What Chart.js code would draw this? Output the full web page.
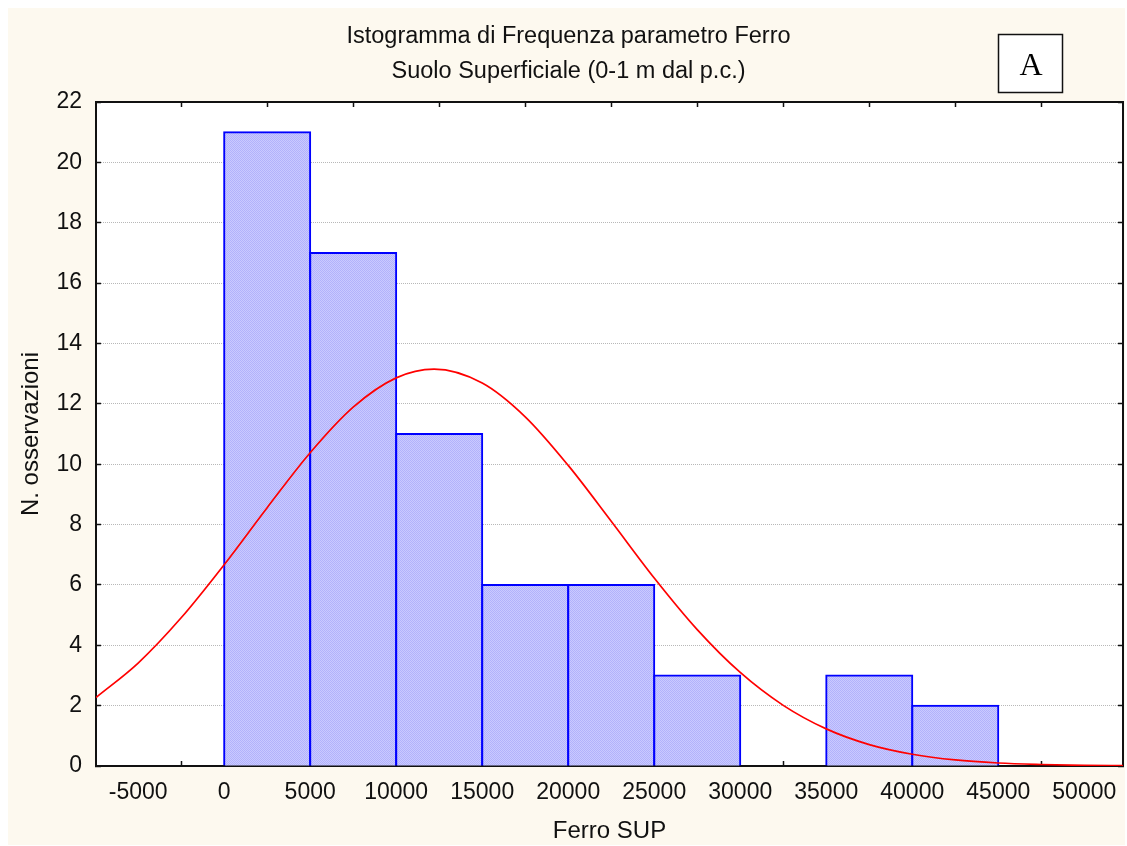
<!DOCTYPE html>
<html>
<head>
<meta charset="utf-8">
<script src="https://cdn.jsdelivr.net/npm/chart.js@4.4.1/dist/chart.umd.min.js"></script>
<style>
  html, body { margin: 0; padding: 0; background: #ffffff; }
  canvas { display: block; }
</style>
</head>
<body>
<canvas id="histo" width="1127" height="846"></canvas>
<script>
// bins of Ferro SUP (lower edge, width 5000) and number of observations
var binStart = [0, 5000, 10000, 15000, 20000, 25000, 30000, 35000, 40000];
var binWidth = 5000;
var counts = [21, 17, 11, 6, 6, 3, 0, 3, 2];

// fitted normal curve
var curveX = [-7450, -5000, -2500, 0, 2500, 5000, 7500, 10000, 12200, 15000, 17500, 20000, 22500,
              25000, 27500, 30000, 32500, 35000, 37500, 40000, 42500, 45000, 47500, 50000, 52250];
var curveY = [2.27, 3.41, 4.91, 6.67, 8.56, 10.38, 11.89, 12.86, 13.15, 12.69, 11.57, 9.96, 8.11,
              6.23, 4.52, 3.10, 2.01, 1.23, 0.71, 0.39, 0.20, 0.10, 0.05, 0.02, 0.01];

var xTicks = [-5000, 0, 5000, 10000, 15000, 20000, 25000, 30000, 35000, 40000, 45000, 50000];
var xMin = -7450, xMax = 52250;
var yMin = 0, yMax = 22, yStep = 2;

var chartTitle = ['Istogramma di Frequenza parametro Ferro', 'Suolo Superficiale (0-1 m dal p.c.)'];
var xTitle = 'Ferro SUP';
var yTitle = 'N. osservazioni';
var panelLetter = 'A';

Chart.defaults.font.family = "'Liberation Sans', Arial, sans-serif";
Chart.defaults.color = '#111';

// hatched light blue fill like the original
function hatch() {
    var c = document.createElement('canvas');
    c.width = 2; c.height = 2;
    var g = c.getContext('2d');
    g.fillStyle = '#cacaff'; g.fillRect(0, 0, 2, 2);
    g.fillStyle = '#b2b2fb'; g.fillRect(0, 0, 1, 1); g.fillRect(1, 1, 1, 1);
    return g.createPattern(c, 'repeat');
}

var setTicks = function (scale) {
    scale.ticks = xTicks.map(function (v) { return {value: v}; });
};
var noPad = function (s) {
    s.paddingLeft = 0; s.paddingRight = 0; s.paddingTop = 0; s.paddingBottom = 0;
};

var backdrop = {
    id: 'backdrop',
    beforeDraw: function (chart) {
        var ctx = chart.ctx, a = chart.chartArea;
        ctx.save();
        ctx.fillStyle = '#fdf9ef';
        ctx.fillRect(8, 8, chart.width - 10, chart.height - 9);
        ctx.fillStyle = '#ffffff';
        ctx.fillRect(a.left, a.top, a.right - a.left, a.bottom - a.top);
        ctx.restore();
    },
    afterDraw: function (chart) {
        var ctx = chart.ctx;
        ctx.save();
        ctx.fillStyle = '#ffffff';
        ctx.fillRect(998.5, 34.5, 64, 58);
        ctx.strokeStyle = '#111';
        ctx.lineWidth = 1.5;
        ctx.strokeRect(998.5, 34.5, 64, 58);
        ctx.fillStyle = '#000';
        ctx.font = "32px 'Liberation Serif', 'Times New Roman', serif";
        ctx.textAlign = 'center';
        ctx.textBaseline = 'alphabetic';
        ctx.fillText(panelLetter, 1031, 75);
        ctx.restore();
    }
};

var bars = binStart.map(function (s, i) {
    return {x: s + binWidth / 2, y: counts[i] || null};
});
var curve = curveX.map(function (x, i) {
    return {x: x, y: curveY[i]};
});

var ctx = document.getElementById('histo');
window.myHisto = new Chart(ctx, {
    type: 'bar',
    data: {
        datasets: [{
            type: 'line',
            data: curve,
            borderColor: '#ff0000',
            borderWidth: 1.7,
            pointRadius: 0,
            fill: false,
            cubicInterpolationMode: 'monotone',
            order: 0
        }, {
            type: 'bar',
            data: bars,
            backgroundColor: hatch(),
            borderColor: '#0000ff',
            borderWidth: 2,
            inflateAmount: 1,
            barPercentage: 1,
            categoryPercentage: 1,
            order: 1
        }]
    },
    options: {
        responsive: false,
        animation: false,
        layout: {padding: {left: 14, right: 4, top: 8, bottom: 0}},
        plugins: {
            legend: {display: false},
            tooltip: {enabled: false},
            title: {
                display: true,
                text: chartTitle,
                font: {size: 23.5, weight: 'normal', lineHeight: 1.49},
                color: '#111',
                padding: {top: 10.8, bottom: 13.2}
            }
        },
        scales: {
            x: {
                type: 'linear',
                position: 'bottom',
                min: xMin,
                max: xMax,
                offset: false,
                z: 1,
                afterBuildTicks: setTicks,
                afterFit: function (s) { s.height = 80; noPad(s); },
                ticks: {
                    autoSkip: false,
                    maxRotation: 0,
                    padding: 18,
                    font: {size: 23},
                    callback: function (v) { return String(v); }
                },
                grid: {drawOnChartArea: false, tickLength: -5, tickColor: '#111', tickWidth: 1.5},
                border: {color: '#111', width: 2},
                title: {display: true, text: xTitle, font: {size: 24}, padding: 0}
            },
            xTop: {
                type: 'linear',
                position: 'top',
                min: xMin,
                max: xMax,
                offset: false,
                afterBuildTicks: setTicks,
                afterFit: function (s) { s.height = 0; noPad(s); },
                ticks: {display: false},
                grid: {drawOnChartArea: false, tickLength: -5, tickColor: '#111', tickWidth: 1.5},
                border: {color: '#111', width: 2}
            },
            y: {
                position: 'left',
                min: yMin,
                max: yMax,
                afterFit: function (s) { s.width = 82; noPad(s); },
                ticks: {stepSize: yStep, padding: 19, font: {size: 23}},
                grid: {color: '#b8b8b8', lineWidth: 1, tickLength: -5, tickColor: '#111', tickWidth: 1.5},
                border: {color: '#111', width: 2, dash: [1, 1]},
                title: {display: true, text: yTitle, font: {size: 24}, padding: {top: 2.6, bottom: 0}}
            },
            yRight: {
                position: 'right',
                min: yMin,
                max: yMax,
                afterFit: function (s) { s.width = 0; noPad(s); },
                ticks: {display: false, stepSize: yStep},
                grid: {drawOnChartArea: false, tickLength: -5, tickColor: '#111', tickWidth: 1.5},
                border: {color: '#111', width: 2}
            }
        }
    },
    plugins: [backdrop]
});
</script>
</body>
</html>
